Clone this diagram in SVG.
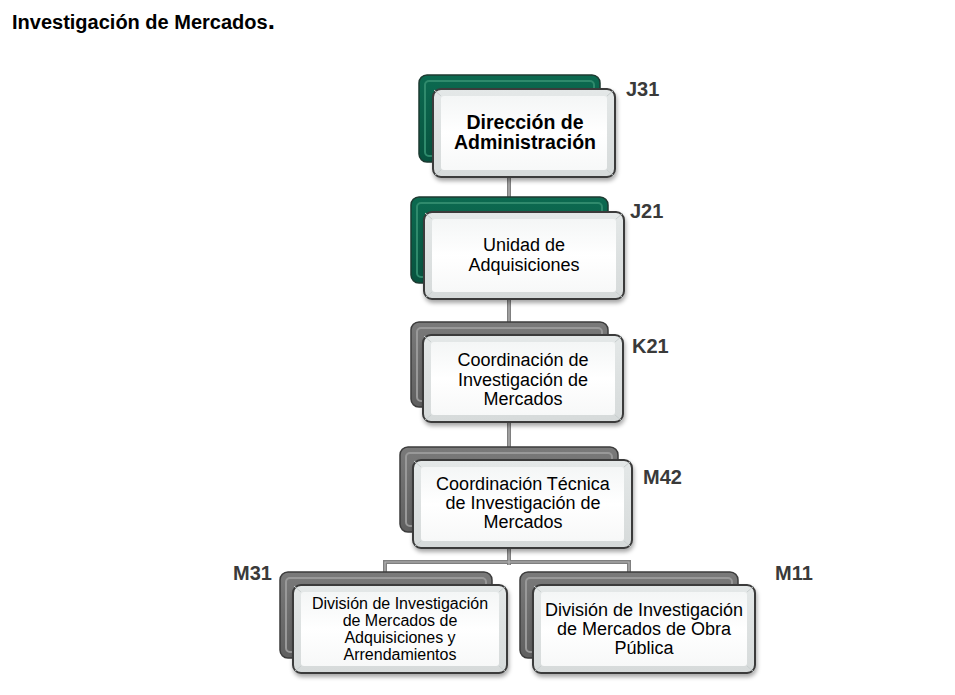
<svg xmlns="http://www.w3.org/2000/svg" width="955" height="695" viewBox="0 0 955 695">
<defs>
<linearGradient id="frontG" x1="0" y1="0" x2="0" y2="1">
<stop offset="0" stop-color="#e4e8e8"/>
<stop offset="1" stop-color="#d6dada"/>
</linearGradient>
<linearGradient id="innerG" x1="0" y1="0" x2="0" y2="1">
<stop offset="0" stop-color="#f4f6f6"/>
<stop offset="0.5" stop-color="#ffffff"/>
<stop offset="1" stop-color="#f7f8f8"/>
</linearGradient>
<linearGradient id="greenG" x1="0" y1="0" x2="0" y2="1">
<stop offset="0" stop-color="#0c6a50"/>
<stop offset="1" stop-color="#07533f"/>
</linearGradient>
<linearGradient id="grayG" x1="0" y1="0" x2="0" y2="1">
<stop offset="0" stop-color="#7a7a7a"/>
<stop offset="1" stop-color="#5f5f5f"/>
</linearGradient>
<filter id="sh" x="-10%" y="-10%" width="130%" height="140%">
<feDropShadow dx="1" dy="3" stdDeviation="2" flood-color="#000" flood-opacity="0.35"/>
</filter>
</defs>
<style>
.back-g{fill:url(#greenG);stroke:#1d3a31;stroke-width:1.5}
.back-k{fill:url(#grayG);stroke:#3c3c3c;stroke-width:1.5}
.back-in-g{fill:none;stroke:#2f8a6c;stroke-width:2}
.back-in-k{fill:none;stroke:#999;stroke-width:2}
.front{fill:url(#frontG);stroke:#3a3a3a;stroke-width:2;filter:url(#sh)}
.inner{fill:url(#innerG);stroke:none}
.bev{stroke:#c9cfcf;stroke-width:1}
.t{font-family:"Liberation Sans",Arial,sans-serif;fill:#000;text-anchor:middle}
.code{font-family:"Liberation Sans",Arial,sans-serif;font-weight:bold;font-size:20px;fill:#3a3a3a}
.conn{fill:none;stroke:#7f7f7f;stroke-width:4}
.conn2{fill:none;stroke:#b5b5b5;stroke-width:1.2}
</style>
<rect width="955" height="695" fill="#fff"/>
<text x="12" y="29" font-family="Liberation Sans,Arial,sans-serif" font-weight="bold" font-size="20" fill="#000">Investigación de Mercados<tspan font-size="26">.</tspan></text>

<g id="connectors">
<path class="conn" d="M509 170 V565 M385 572 V562 H629 V572"/>
<path class="conn2" d="M509 170 V565 M385 572 V562 H629 V572"/>
</g>

<g id="J31">
<rect class="back-g" x="419" y="75" width="181" height="87" rx="8"/>
<rect class="back-in-g" x="425" y="81" width="169" height="75" rx="4"/>
<rect class="front" x="433" y="89" width="182" height="88" rx="8"/>
<rect class="inner" x="441" y="96" width="166" height="74" rx="3"/>
<path class="bev" d="M434 90 L441 96 M614 90 L607 96 M434 176 L441 170 M614 176 L607 170"/>
<text class="t" font-weight="bold" font-size="19.5" x="525" y="129">Dirección de</text>
<text class="t" font-weight="bold" font-size="19.5" x="525" y="149">Administración</text>
<text class="code" x="626" y="96">J31</text>
</g>

<g id="J21">
<rect class="back-g" x="411" y="197" width="197" height="86" rx="8"/>
<rect class="back-in-g" x="417" y="203" width="185" height="74" rx="4"/>
<rect class="front" x="424" y="212" width="200" height="87" rx="8"/>
<rect class="inner" x="432" y="219" width="184" height="73" rx="3"/>
<path class="bev" d="M425 213 L432 219 M623 213 L616 219 M425 298 L432 292 M623 298 L616 292"/>
<text class="t" font-size="18" x="524" y="251">Unidad de</text>
<text class="t" font-size="18" x="524" y="271">Adquisiciones</text>
<text class="code" x="630" y="218">J21</text>
</g>

<g id="K21">
<rect class="back-k" x="411" y="322" width="197" height="85" rx="8"/>
<rect class="back-in-k" x="417" y="328" width="185" height="73" rx="4"/>
<rect class="front" x="423" y="335" width="200" height="87" rx="8"/>
<rect class="inner" x="431" y="342" width="184" height="73" rx="3"/>
<path class="bev" d="M424 336 L431 342 M622 336 L615 342 M424 421 L431 415 M622 421 L615 415"/>
<text class="t" font-size="18" x="523" y="366">Coordinación de</text>
<text class="t" font-size="18" x="523" y="386">Investigación de</text>
<text class="t" font-size="18" x="523" y="405">Mercados</text>
<text class="code" x="632" y="353">K21</text>
</g>

<g id="M42">
<rect class="back-k" x="400" y="447" width="218" height="85" rx="8"/>
<rect class="back-in-k" x="406" y="453" width="206" height="73" rx="4"/>
<rect class="front" x="413" y="460" width="219" height="88" rx="8"/>
<rect class="inner" x="421" y="467" width="203" height="74" rx="3"/>
<path class="bev" d="M414 461 L421 467 M631 461 L624 467 M414 547 L421 541 M631 547 L624 541"/>
<text class="t" font-size="18" x="523" y="490">Coordinación Técnica</text>
<text class="t" font-size="18" x="523" y="509">de Investigación de</text>
<text class="t" font-size="18" x="523" y="528">Mercados</text>
<text class="code" x="643" y="484">M42</text>
</g>

<g id="M31">
<rect class="back-k" x="280" y="572" width="212" height="86" rx="8"/>
<rect class="back-in-k" x="286" y="578" width="200" height="74" rx="4"/>
<rect class="front" x="293" y="585" width="214" height="88" rx="8"/>
<rect class="inner" x="301" y="592" width="198" height="74" rx="3"/>
<path class="bev" d="M294 586 L301 592 M506 586 L499 592 M294 672 L301 666 M506 672 L499 666"/>
<text class="t" font-size="16" x="400" y="609">División de Investigación</text>
<text class="t" font-size="16" x="400" y="626">de Mercados de</text>
<text class="t" font-size="16" x="400" y="643">Adquisiciones y</text>
<text class="t" font-size="16" x="400" y="660">Arrendamientos</text>
<text class="code" x="233" y="580">M31</text>
</g>

<g id="M11">
<rect class="back-k" x="520" y="572" width="218" height="86" rx="8"/>
<rect class="back-in-k" x="526" y="578" width="206" height="74" rx="4"/>
<rect class="front" x="533" y="585" width="222" height="88" rx="8"/>
<rect class="inner" x="541" y="592" width="206" height="74" rx="3"/>
<path class="bev" d="M534 586 L541 592 M754 586 L747 592 M534 672 L541 666 M754 672 L747 666"/>
<text class="t" font-size="18" x="644" y="616">División de Investigación</text>
<text class="t" font-size="18" x="644" y="635">de Mercados de Obra</text>
<text class="t" font-size="18" x="644" y="654">Pública</text>
<text class="code" x="775" y="580">M11</text>
</g>
</svg>
